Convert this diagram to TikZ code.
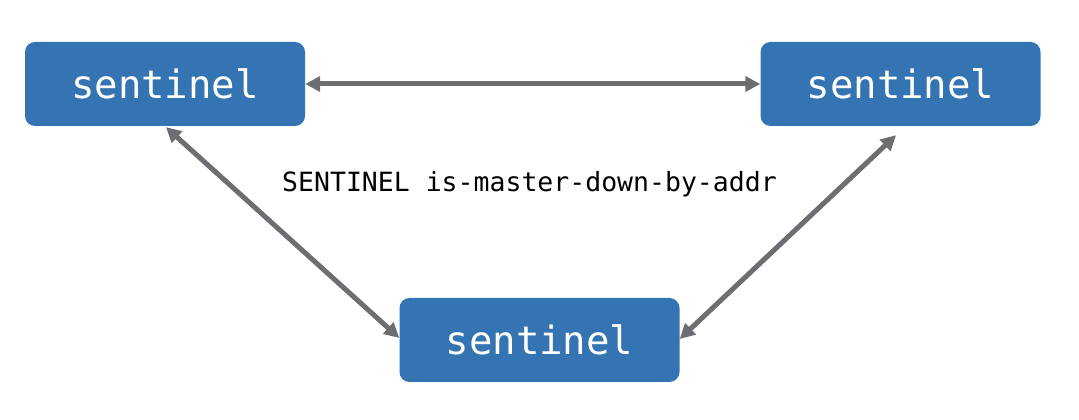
\documentclass[tikz,border=0pt]{standalone}
\usepackage{fontspec}
\newfontfamily\monofont{DejaVu Sans Mono}
\usetikzlibrary{arrows.meta}
\definecolor{boxblue}{HTML}{3574B2}
\definecolor{arrowgray}{HTML}{6D6E71}
\tikzset{
  sentbox/.style={draw=none, fill=boxblue, rounded corners=10pt, minimum width=280pt, minimum height=84pt, inner sep=0pt, text=white, font=\monofont\fontsize{39}{39}\selectfont},
  link/.style={draw=arrowgray, line width=5pt, {Triangle[length=15pt,width=15pt]}-{Triangle[length=15pt,width=15pt]}},
  lbl/.style={font=\monofont\fontsize{26.5}{26.5}\selectfont, text=black, inner sep=0pt}
}
\begin{document}
\begin{tikzpicture}[x=1pt,y=1pt]
\useasboundingbox (0,0) rectangle (1079,420);
\node[sentbox] (tl) at (165,336) {\raisebox{-2pt}{sentinel}};
\node[sentbox] (tr) at (900.5,336) {\raisebox{-2pt}{sentinel}};
\node[sentbox] (b) at (539.5,80) {\raisebox{-2pt}{sentinel}};
\node[lbl, anchor=base] (lab) at (529.5,228) {SENTINEL is-master-down-by-addr};
\draw[link] (tl.east) -- (tr.west);
\draw[link] ([xshift=1pt,yshift=-1pt]tl.south) -- ([yshift=2pt]b.west);
\draw[link] ([shift={(-4.5pt,-9pt)}]tr.south) -- ([yshift=1pt]b.east);
\end{tikzpicture}
\end{document}
